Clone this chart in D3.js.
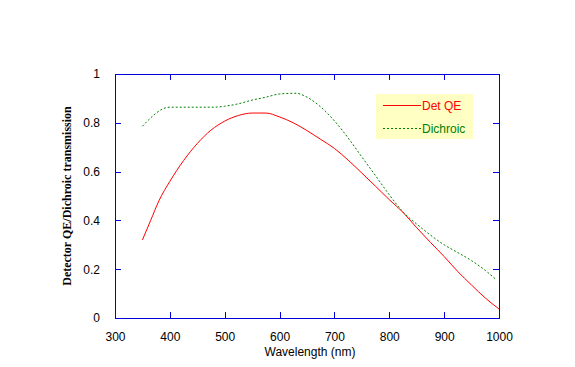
<!DOCTYPE html>
<html lang="en">
<head>
<meta charset="UTF-8">
<title>Detector QE / Dichroic</title>
<style>
  body { margin: 0; background: #fff; }
  svg text { font-family: Arial, "Liberation Sans", sans-serif; font-size: 12px; }
</style>
</head>
<body>
<svg></svg>
<script src="https://d3js.org/d3.v7.min.js"></script>
<script>

// wavelength (nm) and values
var qeWave = [350, 365, 380, 400, 425, 450, 475, 500, 525, 550, 575, 600, 625, 650, 675, 700, 725, 750, 775, 800, 825, 850, 875, 900, 925, 950, 975, 1000];
var qeValues = [0.32, 0.40, 0.48, 0.56, 0.645, 0.715, 0.77, 0.807, 0.83, 0.84, 0.84, 0.824, 0.80, 0.768, 0.732, 0.695, 0.647, 0.594, 0.54, 0.485, 0.433, 0.37, 0.31, 0.252, 0.19, 0.135, 0.082, 0.037];

var dichroicWave = [350, 400, 480, 500, 525, 550, 575, 600, 630, 650, 675, 700, 725, 750, 775, 800, 825, 850, 875, 900, 925, 950, 975, 995];
var dichroicValues = [0.786, 0.864, 0.864, 0.868, 0.878, 0.893, 0.905, 0.918, 0.921, 0.905, 0.865, 0.808, 0.738, 0.66, 0.583, 0.505, 0.435, 0.385, 0.34, 0.30, 0.268, 0.235, 0.195, 0.157];

var xTicks = [300, 400, 500, 600, 700, 800, 900, 1000];
var yTicks = [0, 0.2, 0.4, 0.6, 0.8, 1];

var seriesNames = ["Det QE", "Dichroic"];

var svgWidth = 575, svgHeight = 367;
var margin = { top: 74, right: 76, bottom: 49, left: 115 };
var width = svgWidth - margin.left - margin.right;
var height = svgHeight - margin.top - margin.bottom;

var svg = d3.select("svg")
  .attr("width", svgWidth)
  .attr("height", svgHeight);

var g = svg.append("g")
  .attr("transform", "translate(" + margin.left + "," + margin.top + ")");

var x = d3.scaleLinear().domain([300, 1000]).range([0, width]);
var y = d3.scaleLinear().domain([0, 1]).range([height, 0]);

var axisColor = "#0000dd";

function styleAxis(sel) {
  sel.attr("shape-rendering", "crispEdges");
  sel.select(".domain").attr("stroke", axisColor);
  sel.selectAll(".tick line").attr("stroke", axisColor);
  sel.selectAll(".tick text").attr("fill", "#000").style("font-size", "12px");
}

// bottom
g.append("g")
  .attr("transform", "translate(0," + height + ")")
  .call(d3.axisBottom(x).tickValues(xTicks).tickSize(-6).tickSizeOuter(0).tickPadding(14).tickFormat(d3.format("d")))
  .call(styleAxis);

// top
g.append("g")
  .call(d3.axisTop(x).tickValues(xTicks).tickSize(-6).tickSizeOuter(0).tickFormat(""))
  .call(styleAxis);

// left
g.append("g")
  .call(d3.axisLeft(y).tickValues(yTicks).tickSize(-6).tickSizeOuter(0).tickPadding(15).tickFormat(d3.format("~g")))
  .call(styleAxis);

// right
g.append("g")
  .attr("transform", "translate(" + width + ",0)")
  .call(d3.axisRight(y).tickValues(yTicks).tickSize(-6).tickSizeOuter(0).tickFormat(""))
  .call(styleAxis);

var line = d3.line()
  .x(function(d) { return x(d[0]); })
  .y(function(d) { return y(d[1]); })
  .curve(d3.curveMonotoneX);

g.append("path")
  .datum(d3.zip(qeWave, qeValues))
  .attr("fill", "none")
  .attr("stroke", "#ff0000")
  .attr("stroke-width", 1)
  .attr("d", line);

g.append("path")
  .datum(d3.zip(dichroicWave, dichroicValues))
  .attr("fill", "none")
  .attr("stroke", "#008000")
  .attr("stroke-width", 1)
  .attr("stroke-dasharray", "2,2")
  .attr("d", line);

// axis titles
svg.append("text")
  .attr("x", margin.left + width / 2 + 3)
  .attr("y", 356)
  .attr("text-anchor", "middle")
  .attr("fill", "#000")
  .text("Wavelength (nm)");

svg.append("text")
  .attr("transform", "translate(71," + (margin.top + height / 2) + ") rotate(-90)")
  .attr("text-anchor", "middle")
  .attr("fill", "#000")
  .style("font-family", "'Liberation Serif', 'Times New Roman', serif")
  .style("font-weight", "bold")
  .style("font-size", "12px")
  .text("Detector QE/Dichroic transmission");

// legend
var legend = svg.append("g").attr("transform", "translate(376,94)");
legend.append("rect")
  .attr("width", 97)
  .attr("height", 45)
  .attr("fill", "#ffffc4");

var legendColors = ["#ff0000", "#008000"];
var legendDash = [null, "2,2"];
seriesNames.forEach(function(name, i) {
  var ly = 11.5 + i * 23;
  legend.append("line")
    .attr("x1", 7).attr("x2", 45)
    .attr("y1", ly).attr("y2", ly)
    .attr("stroke", legendColors[i])
    .attr("stroke-dasharray", legendDash[i]);
  legend.append("text")
    .attr("x", 46)
    .attr("y", ly + 4)
    .attr("fill", legendColors[i])
    .text(name);
});

</script>
</body>
</html>
